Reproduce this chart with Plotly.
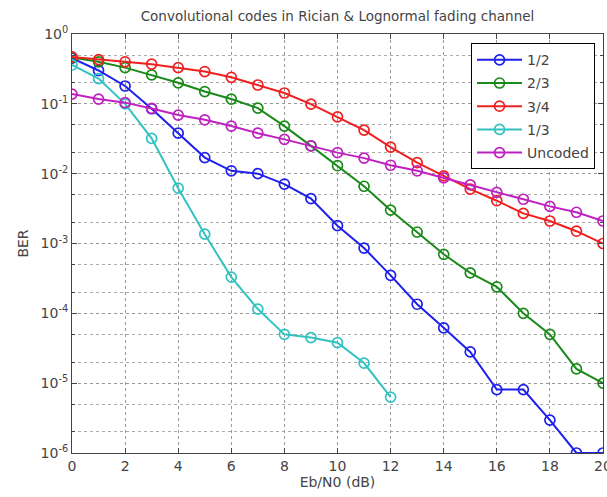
import plotly.graph_objects as go

ebn0 = list(range(0, 21))
ber_half = [0.45, 0.30, 0.18, 0.085, 0.038, 0.017, 0.011, 0.010, 0.0071, 0.0044, 0.0018,
            0.00086, 0.00035, 0.000135, 6.2e-5, 2.8e-5, 8.1e-6, 8.1e-6, 2.95e-6, 1.0e-6, 1.0e-6]
ber_two3 = [0.46, 0.40, 0.33, 0.26, 0.20, 0.15, 0.117, 0.087, 0.048, 0.025, 0.013,
            0.0066, 0.0030, 0.00146, 0.00070, 0.00038, 0.00024, 1.0e-4, 5.0e-5, 1.6e-5, 1.0e-5]
ber_three4 = [0.47, 0.43, 0.40, 0.37, 0.33, 0.29, 0.24, 0.186, 0.143, 0.099, 0.065,
              0.042, 0.024, 0.0144, 0.0093, 0.0060, 0.0041, 0.0027, 0.0021, 0.0015, 0.0010]
x_third = list(range(0, 13))
ber_third = [0.36, 0.23, 0.10, 0.032, 0.0062, 0.00136, 0.00033, 1.15e-4, 5.0e-5, 4.5e-5,
             3.8e-5, 1.94e-5, 6.3e-6]
ber_uncoded = [0.138, 0.117, 0.104, 0.086, 0.069, 0.059, 0.048, 0.038, 0.031, 0.025, 0.020,
               0.0167, 0.0132, 0.011, 0.0087, 0.0069, 0.0054, 0.0043, 0.0034, 0.0028, 0.0021]

series = [
    ("1/2", ebn0, ber_half, "#1f1fee"),
    ("2/3", ebn0, ber_two3, "#1a8a1a"),
    ("3/4", ebn0, ber_three4, "#f02020"),
    ("1/3", x_third, ber_third, "#33c2c2"),
    ("Uncoded", ebn0, ber_uncoded, "#c020c0"),
]

y_tickvals = [1e-6, 1e-5, 1e-4, 1e-3, 1e-2, 1e-1, 1]
y_ticktext = ["10<sup>-6</sup>", "10<sup>-5</sup>", "10<sup>-4</sup>", "10<sup>-3</sup>",
              "10<sup>-2</sup>", "10<sup>-1</sup>", "10<sup>0</sup>"]
x_tickvals = list(range(0, 21, 2))

FONT = "DejaVu Sans, Verdana, sans-serif"
TXT = "#444"

fig = go.Figure()
for name, xs, ys, col in series:
    fig.add_trace(go.Scatter(
        x=xs, y=ys, name=name, mode="lines+markers", legendgroup=name,
        line=dict(color=col, width=2),
        marker=dict(symbol="circle-open", size=10, color=col, line=dict(width=1.7, color=col)),
    ))

fig.update_layout(
    width=607, height=497,
    margin=dict(l=72, r=4, t=34, b=44),
    paper_bgcolor="white", plot_bgcolor="white",
    font=dict(family=FONT, size=14, color=TXT),
    title=dict(text="Convolutional codes in Rician &amp; Lognormal fading channel",
               x=0.556, xanchor="center", y=0.967, yanchor="middle",
               font=dict(family=FONT, size=13.5, color=TXT)),
    showlegend=True,
    legend=dict(x=0.985, xanchor="right", y=0.978, yanchor="top",
                bgcolor="white", bordercolor="black", borderwidth=1,
                font=dict(family=FONT, size=14, color=TXT), tracegroupgap=2,
                itemwidth=45),
)

fig.update_xaxes(
    range=[0, 20], tickvals=x_tickvals, ticklabeloverflow="allow", automargin=False,
    showline=True, linecolor="#444", linewidth=1, mirror="allticks",
    ticks="inside", ticklen=5, tickcolor="#444",
    showgrid=True, gridcolor="#999", griddash="dot", gridwidth=1,
    zeroline=False,
    tickfont=dict(family=FONT, size=14, color=TXT),
    title=dict(text="Eb/N0 (dB)", font=dict(family=FONT, size=14, color=TXT), standoff=2),
)
fig.update_yaxes(
    type="log", range=[-6, 0], tickvals=y_tickvals, ticktext=y_ticktext, automargin=False,
    showline=True, linecolor="#444", linewidth=1, mirror="allticks",
    ticks="inside", ticklen=5, tickcolor="#444",
    showgrid=True, gridcolor="#999", griddash="dot", gridwidth=1,
    minor=dict(showgrid=True, gridcolor="#aaa", griddash="dot", gridwidth=1,
               ticks="inside", ticklen=3, tickcolor="#444"),
    zeroline=False,
    tickfont=dict(family=FONT, size=14, color=TXT),
    title=dict(text="BER", font=dict(family=FONT, size=14, color=TXT), standoff=8),
)

fig.write_html("out.html")
